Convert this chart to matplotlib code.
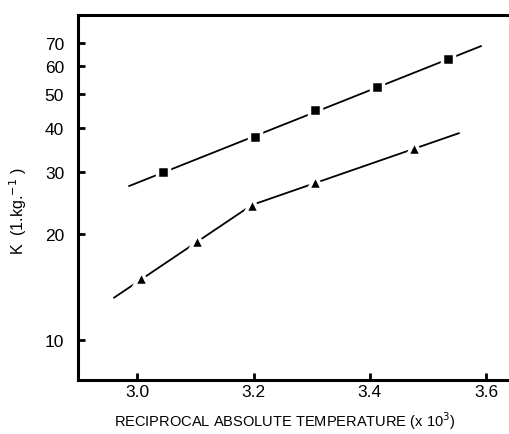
import matplotlib
matplotlib.use("Agg")
import matplotlib.pyplot as plt
from matplotlib import font_manager

# Data
sq_x = [3.045, 3.203, 3.305, 3.412, 3.534]
sq_y = [30.0, 37.8, 45.0, 52.3, 62.9]
sq_line_x = [2.986, 3.591]
sq_line_y = [27.4, 68.4]

tri_x = [3.007, 3.102, 3.197, 3.305, 3.476]
tri_y = [15.0, 19.1, 24.2, 28.1, 35.1]
tri_line_x = [2.960, 3.197, 3.553]
tri_line_y = [13.2, 24.2, 38.7]

x_ticks = [3.0, 3.2, 3.4, 3.6]
x_tick_labels = ["3.0", "3.2", "3.4", "3.6"]
y_ticks = [10, 20, 30, 40, 50, 60, 70]
y_tick_labels = ["10", "20", "30", "40", "50", "60", "70"]

names = {f.name for f in font_manager.fontManager.ttflist}
font = [n for n in ["Liberation Sans Narrow", "DejaVu Sans Condensed", "Liberation Sans"] if n in names] + ["DejaVu Sans"]
plt.rcParams['font.family'] = font

fig = plt.figure(figsize=(5.1, 4.35), dpi=100)
ax = fig.add_axes([0.153, 0.124, 0.847, 0.839])

ax.set_yscale('log')
ax.set_xlim(2.898, 3.641)
ax.set_ylim(7.7, 83.8)

ax.plot(sq_line_x, sq_line_y, color='black', lw=1.3, zorder=1)
ax.plot(tri_line_x, tri_line_y, color='black', lw=1.3, zorder=1)
ax.plot(sq_x, sq_y, linestyle='none', marker='s', markersize=8.5,
        markerfacecolor='black', markeredgecolor='white', markeredgewidth=2.5, zorder=2)
ax.plot(tri_x, tri_y, linestyle='none', marker='^', markersize=10,
        markerfacecolor='black', markeredgecolor='white', markeredgewidth=2.5, zorder=2)

ax.set_xticks(x_ticks)
ax.set_xticklabels(x_tick_labels)
ax.set_yticks(y_ticks)
ax.set_yticklabels(y_tick_labels)
ax.yaxis.set_minor_locator(matplotlib.ticker.NullLocator())

ax.tick_params(axis='both', direction='in', length=5, width=2, labelsize=12.5)
ax.tick_params(axis='y', pad=10)
ax.tick_params(axis='x', pad=3)

for s in ['left', 'top', 'bottom']:
    ax.spines[s].set_linewidth(2.2)
ax.spines['right'].set_visible(False)

fig.text(0.558, 0.018, "RECIPROCAL ABSOLUTE TEMPERATURE (x 10$^{3}$)", ha='center', va='baseline', fontsize=10.5)
fig.text(0.035, 0.515, "K  (1.kg.$^{-1}$ )", rotation=90, ha='center', va='center', fontsize=11.5)

fig.savefig("out.png", dpi=100)
